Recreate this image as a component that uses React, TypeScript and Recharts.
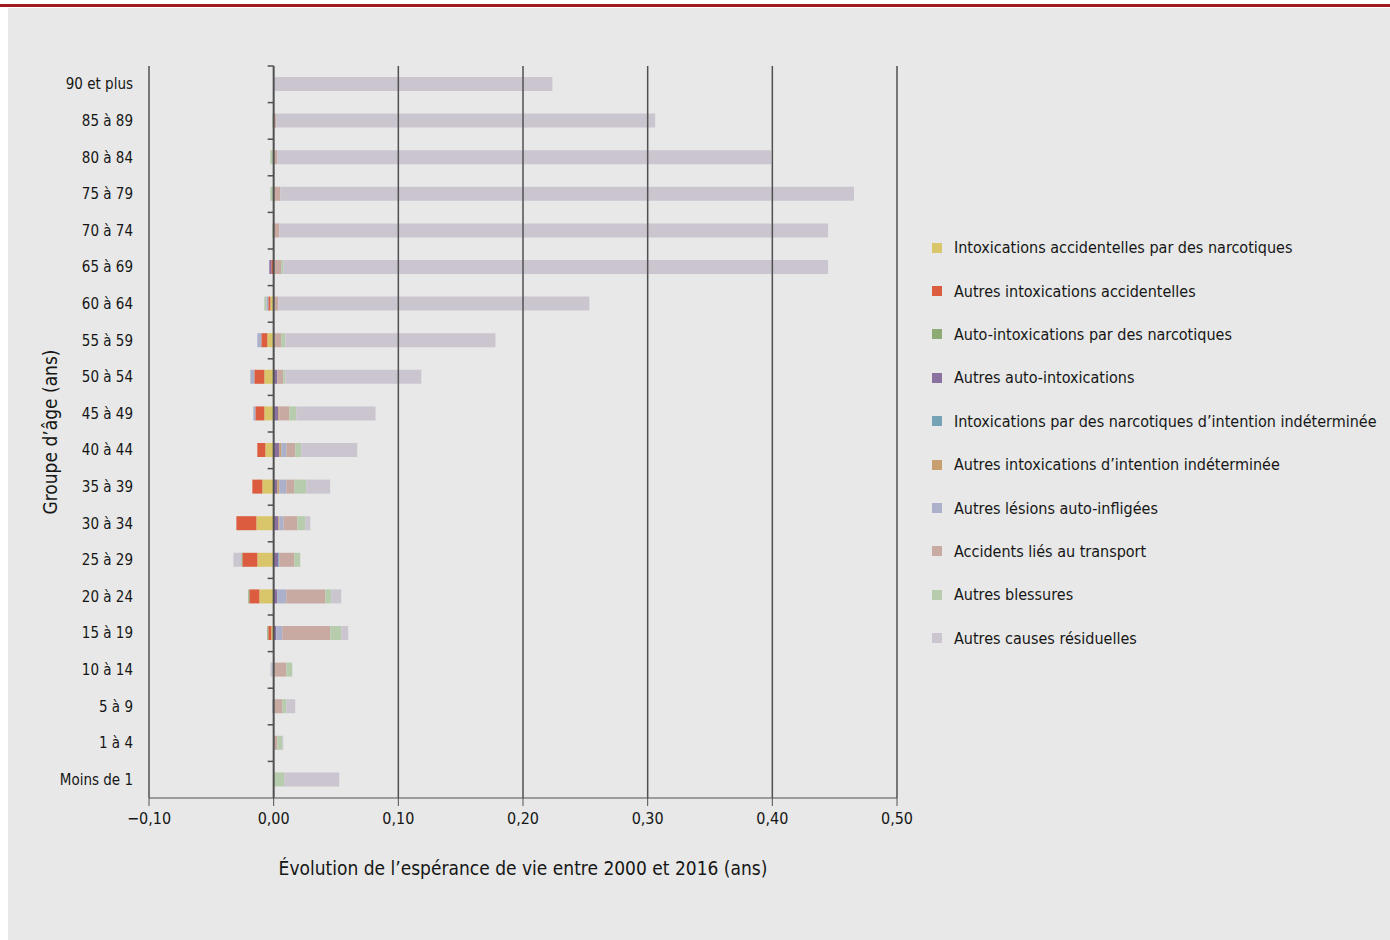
import React from "react"
import {
  BarChart,
  Bar,
  XAxis,
  YAxis,
  ReferenceLine,
} from "recharts"

const FONT = "'Liberation Sans Narrow', 'DejaVu Sans Condensed', 'Noto Sans', sans-serif"
const TEXT = "#161616"
const AXIS = "#505050"

const W = 1390
const H = 940
const MARGIN = { top: 66, right: 493, bottom: 62, left: 0 }
const Y_AXIS_W = 149
const X_AXIS_H = 80
const X_MIN = -0.1
const X_MAX = 0.5

const ageGroups = [
  "90 et plus", "85 à 89", "80 à 84", "75 à 79", "70 à 74", "65 à 69", "60 à 64",
  "55 à 59", "50 à 54", "45 à 49", "40 à 44", "35 à 39", "30 à 34", "25 à 29",
  "20 à 24", "15 à 19", "10 à 14", "5 à 9", "1 à 4", "Moins de 1",
]

const xTicks = [-0.1, 0, 0.1, 0.2, 0.3, 0.4, 0.5]

// values in years, one per age group (top to bottom)
const narcAcc = [0, 0, 0, 0, 0, 0, -0.0027, -0.0051, -0.0075, -0.0075, -0.0067, -0.0091, -0.0139, -0.0131, -0.0115, -0.0019, 0, 0, 0, 0]
const autresAcc = [0, 0, 0, 0, 0, -0.0019, -0.0016, -0.0048, -0.008, -0.0072, -0.0064, -0.008, -0.016, -0.012, -0.008, -0.0024, 0, 0, 0, 0]
const narcAuto = [0, 0, 0, 0, 0, 0, 0, 0, 0, 0, 0, 0, 0, -0.0008, -0.0008, -0.0008, 0, 0, 0, 0]
const autresAuto = [0, 0, 0, 0, 0, -0.0016, 0, 0, 0.0029, 0.0037, 0.0045, 0.0029, 0.0037, 0.0037, 0.0029, 0.0021, 0, 0, 0, 0]
const narcIndet = [0, 0, 0, 0, 0, 0, 0, 0, 0, 0, 0, 0, 0, 0.0008, 0, 0, 0, 0, 0, 0]
const autresIndet = [0, 0, 0, 0, 0, 0, 0, 0, 0, 0.0008, 0.0016, 0.0016, 0.0008, 0, 0, 0, 0, 0, 0, 0]
const lesions = [0, 0, 0, 0, 0, 0, -0.0016, -0.0032, -0.0032, -0.0016, 0.004, 0.0056, 0.0035, 0, 0.0072, 0.0048, -0.001, -0.001, 0, 0]
const transport = [0, 0.002, 0.003, 0.0053, 0.0045, 0.0061, 0.0037, 0.0061, 0.0048, 0.008, 0.0072, 0.0064, 0.011, 0.012, 0.0313, 0.0385, 0.0101, 0.0069, 0.0029, 0]
const blessures = [0, -0.001, -0.0027, -0.0027, -0.001, 0.0016, -0.0016, 0.0032, 0.0016, 0.0056, 0.0048, 0.0096, 0.0064, 0.0048, 0.0048, 0.0088, 0.0048, 0.0032, 0.004, 0.0085]
const residuelles = [0.2236, 0.304, 0.396, 0.4602, 0.4402, 0.437, 0.2495, 0.1686, 0.1091, 0.0636, 0.0449, 0.0192, 0.004, -0.0064, 0.008, 0.0056, -0.0016, 0.0072, 0.0008, 0.0441]

const series = [
  { key: "narcAcc", name: "Intoxications accidentelles par des narcotiques", color: "#d9c66b", values: narcAcc },
  { key: "autresAcc", name: "Autres intoxications accidentelles", color: "#dc5c40", values: autresAcc },
  { key: "narcAuto", name: "Auto-intoxications par des narcotiques", color: "#8fab74", values: narcAuto },
  { key: "autresAuto", name: "Autres auto-intoxications", color: "#8b71a0", values: autresAuto },
  { key: "narcIndet", name: "Intoxications par des narcotiques d’intention indéterminée", color: "#75a2b5", values: narcIndet },
  { key: "autresIndet", name: "Autres intoxications d’intention indéterminée", color: "#c89f6f", values: autresIndet },
  { key: "lesions", name: "Autres lésions auto-infligées", color: "#abb0cb", values: lesions },
  { key: "transport", name: "Accidents liés au transport", color: "#c8aaa3", values: transport },
  { key: "blessures", name: "Autres blessures", color: "#b7cbad", values: blessures },
  { key: "residuelles", name: "Autres causes résiduelles", color: "#cbc5d0", values: residuelles },
]

const data = ageGroups.map((group, i) => {
  const row: Record<string, string | number> = { group }
  series.forEach((s) => {
    row[s.key] = s.values[i]
  })
  return row
})

const PLOT_LEFT = MARGIN.left + Y_AXIS_W
const PLOT_W = W - PLOT_LEFT - MARGIN.right
const PLOT_H = H - MARGIN.top - MARGIN.bottom - X_AXIS_H
const ZERO_X = PLOT_LEFT + ((0 - X_MIN) / (X_MAX - X_MIN)) * PLOT_W
const BAND = PLOT_H / ageGroups.length

const fmt = (v: number) =>
  (v < 0 ? "\u2212" : "") + Math.abs(v).toFixed(2).replace(".", ",")

function AgeTick(props: any) {
  const { x, y, payload } = props
  const ty = y - BAND / 2
  return (
    <g>
      <text x={x} y={y} textAnchor="end" dominantBaseline="central" fontSize={15} fill={TEXT} fontFamily={FONT}>
        {payload.value}
      </text>
      <line x1={ZERO_X - 6} x2={ZERO_X} y1={ty} y2={ty} stroke={AXIS} strokeWidth={1.5} />
    </g>
  )
}

function LegendList() {
  return (
    <div style={{ position: "absolute", left: 932, top: 226, fontFamily: FONT, fontSize: 16, color: TEXT }}>
      {series.map((s) => (
        <div key={s.key} style={{ display: "flex", alignItems: "center", height: 43.4, whiteSpace: "nowrap" }}>
          <span style={{ width: 10, height: 10, background: s.color, marginRight: 12, display: "inline-block" }} />
          <span>{s.name}</span>
        </div>
      ))}
    </div>
  )
}

export default function App() {
  return (
    <div style={{ position: "absolute", left: 0, top: 0, width: W, height: H, background: "#fff", overflow: "hidden" }}>
      <div style={{ position: "absolute", left: 0, top: 4, width: W, height: 3, background: "#a11a1c" }} />
      <div style={{ position: "absolute", left: 8, top: 8, width: W - 8, height: H - 8, background: "#e7e8e7" }} />
      <div style={{ position: "absolute", left: 0, top: 0 }}>
        <BarChart
          width={W}
          height={H}
          data={data}
          layout="vertical"
          stackOffset="sign"
          margin={MARGIN}
          barSize={14}
        >
          <XAxis
            type="number"
            domain={[X_MIN, X_MAX]}
            ticks={xTicks}
            tickFormatter={fmt}
            height={X_AXIS_H}
            stroke={AXIS}
            tickSize={8}
            tickMargin={7}
            tick={{ fill: TEXT, fontSize: 16, fontFamily: FONT }}
            allowDataOverflow
            label={{
              value: "Évolution de l’espérance de vie entre 2000 et 2016 (ans)",
              position: "insideBottom",
              offset: 3,
              fill: TEXT,
              fontSize: 19,
              fontFamily: FONT,
            }}
          />
          <YAxis
            type="category"
            dataKey="group"
            width={Y_AXIS_W}
            axisLine={false}
            tickLine={false}
            tickSize={8}
            tickMargin={8}
            interval={0}
            tick={<AgeTick />}
            label={{
              content: (p: any) => {
                const vb = p.viewBox || { x: 0, y: MARGIN.top, height: PLOT_H }
                const cy = vb.y + vb.height / 2
                return (
                  <text
                    transform={`translate(${vb.x + 50}, ${cy}) rotate(-90)`}
                    textAnchor="middle"
                    dominantBaseline="central"
                    fontSize={19}
                    fill={TEXT}
                    fontFamily={FONT}
                  >
                    Groupe d’âge (ans)
                  </text>
                )
              },
            }}
          />
          {series.map((s) => (
            <Bar
              key={s.key}
              dataKey={s.key}
              name={s.name}
              stackId="s"
              fill={s.color}
              isAnimationActive={false}
            />
          ))}
          {xTicks.map((t) => (
            <ReferenceLine key={t} x={t} stroke={AXIS} strokeWidth={t === 0 ? 2 : 1.5} />
          ))}
        </BarChart>
      </div>
      <LegendList />
    </div>
  )
}
